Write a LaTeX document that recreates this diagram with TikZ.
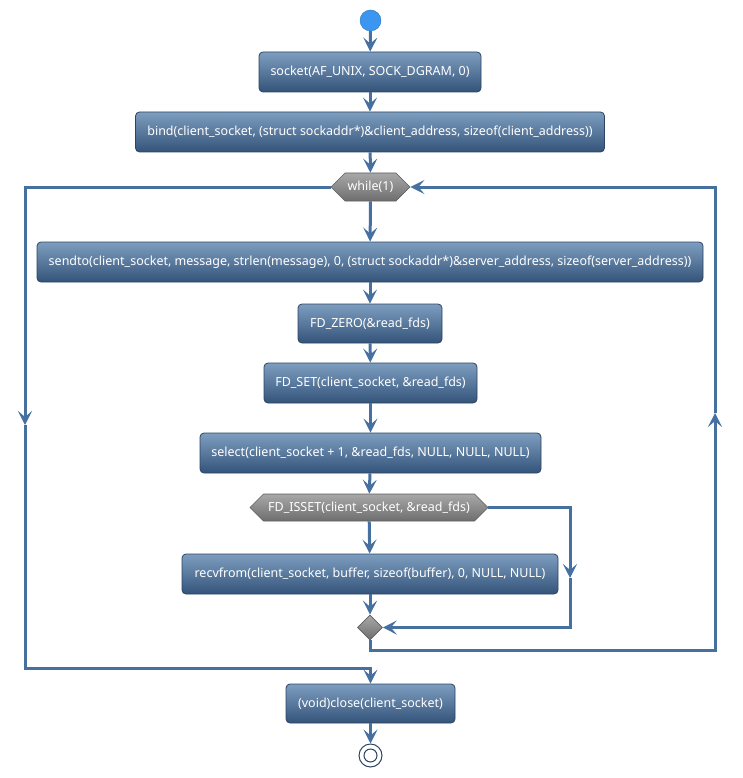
\documentclass[tikz,border=0pt]{standalone}
\usepackage{fontspec}
\setmainfont{Noto Sans}
\usetikzlibrary{arrows.meta,shapes.geometric,shapes.symbols}
\definecolor{linec}{HTML}{4570A0}
\definecolor{boxtop}{HTML}{7E9EC0}
\definecolor{boxbot}{HTML}{33537A}
\definecolor{boxborder}{HTML}{2C4462}
\definecolor{graytop}{HTML}{A8A8A8}
\definecolor{graybot}{HTML}{6E6E6E}
\definecolor{grayborder}{HTML}{5E5E5E}
\definecolor{startc}{HTML}{3A96F0}
\tikzset{
  act/.style={rectangle, rounded corners=4pt, draw=boxborder, line width=0.8pt,
    top color=boxtop, bottom color=boxbot, text=white, minimum height=40pt,
    inner xsep=4pt, font=\fontsize{12.5}{15}\selectfont},
  hexa/.style={signal, signal to=east and west, signal from=nowhere, draw=grayborder,
    line width=0.6pt, top color=graytop, bottom color=graybot, text=white,
    minimum height=28pt, inner xsep=2pt, font=\fontsize{12.5}{15}\selectfont},
  merge/.style={diamond, draw=grayborder, line width=0.6pt, top color=graytop,
    bottom color=graybot, minimum width=25pt, minimum height=25pt, inner sep=0pt},
  flow/.style={draw=linec, line width=3pt, -{Stealth[length=14pt,width=14pt,inset=6pt]}},
}
\begin{document}
\begin{tikzpicture}[x=1pt,y=-1pt]
\useasboundingbox (0,0) rectangle (742,778);
\node[circle, fill=startc, draw=startc!80!black, line width=0.4pt, minimum size=21pt, inner sep=0pt] (start) at (370.5,20.5) {};
\node[act, minimum width=222pt] (s1) at (370,72) {socket(AF\_UNIX, SOCK\_DGRAM, 0)};
\node[act, minimum width=469pt] (s2) at (370,132) {bind(client\_socket, (struct sockaddr*)\&client\_address, sizeof(client\_address))};
\node[hexa, minimum width=79pt] (wh) at (370.5,187) {while(1)};
\node[act, minimum width=666pt] (s3) at (370,262) {sendto(client\_socket, message, strlen(message), 0, (struct sockaddr*)\&server\_address, sizeof(server\_address))};
\node[act, minimum width=144pt, minimum height=39pt] (s4) at (370,323.5) {FD\_ZERO(\&read\_fds)};
\node[act, minimum width=213pt] (s5) at (370.5,383) {FD\_SET(client\_socket, \&read\_fds)};
\node[act, minimum width=341pt] (s6) at (370.5,453) {select(client\_socket + 1, \&read\_fds, NULL, NULL, NULL)};
\node[hexa, minimum width=238pt, minimum height=27pt] (is) at (369,507.5) {FD\_ISSET(client\_socket, \&read\_fds)};
\node[act, minimum width=376pt] (s7) at (370,574) {recvfrom(client\_socket, buffer, sizeof(buffer), 0, NULL, NULL)};
\node[merge] (mg) at (370,627.5) {};
\node[act, minimum width=169pt, minimum height=39pt] (s8) at (370.5,703.5) {(void)close(client\_socket)};
\node[circle, draw=boxborder, fill=white, line width=1pt, minimum size=23pt, inner sep=0pt] (end) at (370.5,755.5) {};
\node[circle, draw=boxborder, fill=white, line width=1pt, minimum size=13pt, inner sep=0pt] (endin) at (370.5,755.5) {};

\coordinate (ra) at (570,507.5);
\coordinate (rb) at (570,578);
\coordinate (rc) at (570,627.5);
\coordinate (la) at (25,187);
\coordinate (lb) at (25,425);
\coordinate (lc) at (25,668);
\coordinate (ld) at (370.5,668);
\coordinate (ba) at (370,650);
\coordinate (bb) at (715,650);
\coordinate (bc) at (715,413);
\coordinate (bd) at (715,187);

\draw[flow] (start) -- (s1);
\draw[flow] (s1) -- (s2);
\draw[flow] (s2) -- (wh);
\draw[flow] (wh) -- (s3);
\draw[flow] (s3) -- (s4);
\draw[flow] (s4) -- (s5);
\draw[flow] (s5) -- (s6);
\draw[flow] (s6) -- (is);
\draw[flow] (is) -- (s7);
\draw[flow] (s7) -- (mg);
\draw[flow] (is.east) -- (ra) -- (rb);
\draw[flow] (rb) -- (rc) -- (mg.east);
\draw[flow] (mg.south) -- (ba) -- (bb) -- (bc);
\draw[flow] (bc) -- (bd) -- (wh.east);
\draw[flow] (wh.west) -- (la) -- (lb);
\draw[flow] (lb) -- (lc) -- (ld) -- (s8);
\draw[flow] (s8) -- (end);
\end{tikzpicture}
\end{document}
